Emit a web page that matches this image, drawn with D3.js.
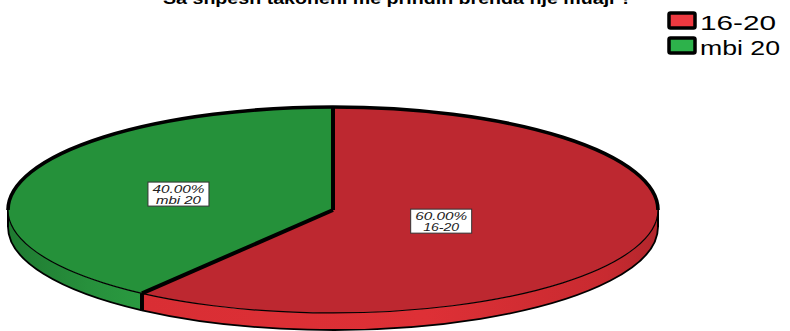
<!DOCTYPE html>
<html>
<head>
<meta charset="utf-8">
<script src="https://cdn.jsdelivr.net/npm/d3@7"></script>
<style>
  body { margin: 0; background: #fff; }
  svg { display: block; }
</style>
</head>
<body>
<svg id="chart" width="790" height="331"></svg>
<script>
const title = "Sa shpesh takoheni me prindin brenda nje muaji ?";
const categories = ["16-20", "mbi 20"];
const values = [60, 40];
const percentLabels = ["60.00%", "40.00%"];

const topColors = ["#BD2830", "#25913A"];
const sideColors = ["#D92E34", "#2A9A40"];
const sideDark = ["#B2262C", "#1F7A31"];
const legendColors = ["#EE3940", "#2DB24B"];

const W = 790, H = 331;
const cx = 333, cy = 210, rx = 325, ry = 103, depth = 17;
const labelFrac = [0.35, 0.5];

const svg = d3.select("#chart");
const defs = svg.append("defs");

const pie = d3.pie().sort(null).value(d => d)(values);

const P = (t, dy = 0) => [cx + rx * Math.sin(t), cy - ry * Math.cos(t) + dy];
const fmt = p => p[0].toFixed(2) + "," + p[1].toFixed(2);

function arcPath(a, b, dy, sweep) {
  const large = Math.abs(b - a) > Math.PI ? 1 : 0;
  return `A${rx},${ry} 0 ${large} ${sweep} ${fmt(P(sweep ? b : a, dy))}`;
}

pie.forEach((d, i) => {
  const g = defs.append("linearGradient").attr("id", "side" + i)
    .attr("x1", "0").attr("x2", "1").attr("y1", "0").attr("y2", "0");
  if (i === 0) {
    g.append("stop").attr("offset", "0%").attr("stop-color", sideColors[0]);
    g.append("stop").attr("offset", "55%").attr("stop-color", "#DE3036");
    g.append("stop").attr("offset", "90%").attr("stop-color", "#C82A30");
    g.append("stop").attr("offset", "100%").attr("stop-color", sideDark[0]);
  } else {
    g.append("stop").attr("offset", "0%").attr("stop-color", sideDark[1]);
    g.append("stop").attr("offset", "60%").attr("stop-color", "#27903C");
    g.append("stop").attr("offset", "100%").attr("stop-color", sideColors[1]);
  }
});

const sideG = svg.append("g");
pie.forEach((d, i) => {
  const a = Math.max(d.startAngle, Math.PI / 2);
  const b = Math.min(d.endAngle, 3 * Math.PI / 2);
  if (b <= a) return;
  const path = `M${fmt(P(a))} ${arcPath(a, b, 0, 1)} L${fmt(P(b, depth))} A${rx},${ry} 0 ${(b - a) > Math.PI ? 1 : 0} 0 ${fmt(P(a, depth))} Z`;
  sideG.append("path").attr("d", path)
    .attr("fill", `url(#side${i})`)
    .attr("stroke", "none");
  sideG.append("path")
    .attr("d", `M${fmt(P(a, depth))} ${arcPath(a, b, depth, 1)}`)
    .attr("fill", "none").attr("stroke", "#000").attr("stroke-width", 1.8);
});
[Math.PI / 2, 3 * Math.PI / 2].forEach(t => {
  sideG.append("line")
    .attr("x1", P(t)[0]).attr("y1", P(t)[1])
    .attr("x2", P(t, depth)[0]).attr("y2", P(t, depth)[1])
    .attr("stroke", "#000").attr("stroke-width", 2);
});
pie.forEach(d => {
  const t = d.startAngle;
  if (t > Math.PI / 2 && t < 3 * Math.PI / 2) {
    sideG.append("line")
      .attr("x1", P(t)[0]).attr("y1", P(t)[1])
      .attr("x2", P(t, depth)[0]).attr("y2", P(t, depth)[1])
      .attr("stroke", "#000").attr("stroke-width", 4);
  }
});

const topG = svg.append("g");
pie.forEach((d, i) => {
  const path = `M${cx},${cy} L${fmt(P(d.startAngle))} ${arcPath(d.startAngle, d.endAngle, 0, 1)} Z`;
  topG.append("path").attr("d", path).attr("fill", topColors[i]).attr("stroke", "none");
});
topG.append("path")
  .attr("d", `M${fmt(P(-Math.PI / 2))} A${rx},${ry} 0 0 1 ${fmt(P(Math.PI / 2))}`)
  .attr("fill", "none").attr("stroke", "#000").attr("stroke-width", 3.6);
topG.append("path")
  .attr("d", `M${fmt(P(Math.PI / 2))} A${rx},${ry} 0 0 1 ${fmt(P(3 * Math.PI / 2))}`)
  .attr("fill", "none").attr("stroke", "#000").attr("stroke-width", 1.2);
pie.forEach(d => {
  topG.append("line")
    .attr("x1", cx).attr("y1", cy)
    .attr("x2", P(d.startAngle)[0]).attr("y2", P(d.startAngle)[1])
    .attr("stroke", "#000").attr("stroke-width", 4).attr("stroke-linecap", "butt");
});

const labG = svg.append("g");
pie.forEach((d, i) => {
  const m = (d.startAngle + d.endAngle) / 2;
  const lx = cx + rx * labelFrac[i] * Math.sin(m);
  const ly = cy - ry * labelFrac[i] * Math.cos(m);
  const bw = 61, bh = 24;
  labG.append("rect")
    .attr("x", lx - bw / 2).attr("y", ly - bh / 2)
    .attr("width", bw).attr("height", bh)
    .attr("fill", "#fff").attr("stroke", "#333").attr("stroke-width", 1);
  const font = "Liberation Sans, Arial, sans-serif";
  labG.append("text")
    .attr("x", lx).attr("y", ly - 1.5)
    .attr("font-family", font).attr("font-style", "italic").attr("font-size", 11.5)
    .attr("fill", "#222").attr("text-anchor", "middle")
    .attr("textLength", 52).attr("lengthAdjust", "spacingAndGlyphs")
    .text(percentLabels[i]);
  labG.append("text")
    .attr("x", lx).attr("y", ly + 9.5)
    .attr("font-family", font).attr("font-style", "italic").attr("font-size", 11.5)
    .attr("fill", "#222").attr("text-anchor", "middle")
    .attr("textLength", i === 0 ? 36 : 45).attr("lengthAdjust", "spacingAndGlyphs")
    .text(categories[i]);
});

svg.append("text")
  .attr("x", 163).attr("y", 4)
  .attr("font-family", "Liberation Sans, Arial, sans-serif")
  .attr("font-weight", "bold").attr("font-size", 17)
  .attr("textLength", 469).attr("lengthAdjust", "spacingAndGlyphs")
  .attr("fill", "#000")
  .text(title);

const legG = svg.append("g");
categories.forEach((c, i) => {
  const y0 = 13 + i * 25;
  legG.append("rect")
    .attr("x", 669).attr("y", y0).attr("width", 26).attr("height", 15)
    .attr("fill", legendColors[i]).attr("stroke", "#000").attr("stroke-width", 3.5)
    .attr("rx", 1.5);
  legG.append("text")
    .attr("x", 700).attr("y", y0 + 17)
    .attr("font-family", "Liberation Sans, Arial, sans-serif")
    .attr("font-size", 21)
    .attr("textLength", i === 0 ? 76 : 80).attr("lengthAdjust", "spacingAndGlyphs")
    .attr("fill", "#000")
    .text(c);
});
</script>
</body>
</html>
